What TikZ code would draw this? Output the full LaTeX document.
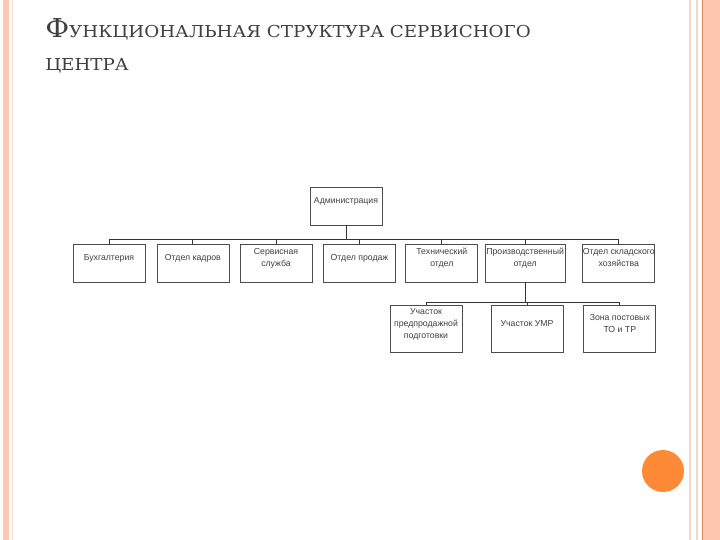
\documentclass[tikz,border=0pt]{standalone}
\usepackage{fontspec}
\setmainfont{DejaVu Serif}[FakeStretch=1.11]
\newfontfamily\boxfont{Liberation Sans}
\usetikzlibrary{positioning,calc}
\definecolor{band}{HTML}{FCC6B0}
\definecolor{bandline}{HTML}{E98A5E}
\definecolor{beige}{HTML}{F2D8C8}
\definecolor{dot}{HTML}{FF8A35}
\definecolor{ttl}{HTML}{3F3F3F}
\begin{document}
\begin{tikzpicture}[x=0.25mm,y=-0.25mm,
 box/.style={draw=black!70,line width=0.5pt,minimum width=18mm,minimum height=9.5mm,align=center,inner sep=1pt,
  text depth=2.8mm,text=black!75,font=\boxfont\fontsize{6.2}{8.5}\selectfont},
 ln/.style={draw=black!80,line width=0.6pt}]
\useasboundingbox (0,0) rectangle (720,540);
\fill[white] (0,0) rectangle (720,540);
\fill[band] (3,0) rectangle (9,540);
\draw[band!60,line width=0.5pt] (12,0) -- (12,540);
\draw[beige,line width=1.2pt] (690,0) -- (690,540);
\draw[beige,line width=1.2pt] (697,0) -- (697,540);
\fill[band] (702,0) rectangle (720,540);
\draw[bandline,line width=0.8pt] (702.5,0) -- (702.5,540);
\fill[dot] (663,471) circle (5.25mm);
\node[anchor=base west,text=ttl,inner sep=0] (ttl1) at (45,37)
 {{\fontsize{18.5}{18.5}\selectfont Ф}{\fontsize{11.7}{11.7}\selectfont УНКЦИОНАЛЬНАЯ СТРУКТУРА СЕРВИСНОГО}};
\node[anchor=base west,text=ttl,inner sep=0] (ttl2) at (45,70)
 {\fontsize{11.7}{11.7}\selectfont ЦЕНТРА};
\node[box] (adm) at (346,206) {Администрация};
\node[box] (buh) at (109,263) {Бухгалтерия};
\node[box,right=2.8mm of buh] (kadr) {Отдел кадров};
\node[box,right=2.6mm of kadr] (serv) {Сервисная\\служба};
\node[box,right=2.7mm of serv] (prod) {Отдел продаж};
\node[box,right=2.4mm of prod] (tech) {Технический\\отдел};
\node[box,minimum width=19.75mm,right=1.6mm of tech] (proizv) {Производственный\\отдел};
\node[box,inner xsep=0pt,right=4.2mm of proizv] (sklad) {Отдел складского\\хозяйства};
\node[box,minimum height=11.75mm] (upp) at (426,329) {Участок\\предпродажной\\подготовки};
\node[box,minimum height=11.75mm,right=7.1mm of upp] (umr) {Участок УМР};
\node[box,minimum height=11.75mm,right=5mm of umr] (zona) {Зона постовых\\ТО и ТР};
\coordinate (bus) at ($(buh.north)+(0,-4)$);
\draw[ln] (adm.south) -- (adm.south |- bus);
\draw[ln] (buh.north) -- (bus) -| (sklad.north);
\foreach \d in {kadr,serv,prod,tech,proizv}
 \draw[ln] (\d.north) -- (\d.north |- bus);
\coordinate (bus2) at ($(upp.north)+(0,-3)$);
\draw[ln] (proizv.south) -- (proizv.south |- bus2);
\draw[ln] (upp.north) -- (bus2) -| (zona.north);
\draw[ln] (umr.north) -- (umr.north |- bus2);
\end{tikzpicture}
\end{document}
